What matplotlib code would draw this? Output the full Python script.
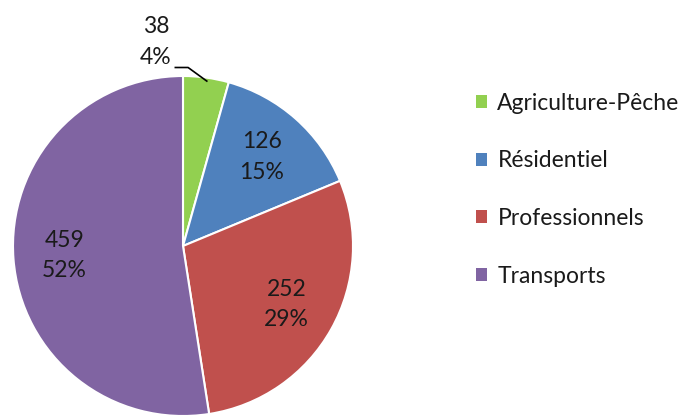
import matplotlib
matplotlib.use("Agg")
import matplotlib.pyplot as plt
import numpy as np
from matplotlib.patches import Patch

categories = ["Agriculture-Pêche", "Résidentiel", "Professionnels", "Transports"]
values = [38, 126, 252, 459]
percents = ["4%", "15%", "29%", "52%"]
colors = ["#92D050", "#4F81BD", "#C0504D", "#8064A2"]

plt.rcParams['font.family'] = ['Lato', 'DejaVu Sans']
FW = "normal"
FS = 16.5
TC = "#1a1a1a"

W, H = 692, 416
fig = plt.figure(figsize=(W / 100, H / 100), dpi=100)
cx, cy, r = 183, 246, 170
ax = fig.add_axes([(cx - r) / W, (H - cy - r) / H, 2 * r / W, 2 * r / H])

wedges, _ = ax.pie(values, colors=colors, startangle=90, counterclock=False,
                   radius=1, wedgeprops=dict(edgecolor="white", linewidth=1.5))
ax.set_xlim(-1, 1)
ax.set_ylim(-1, 1)
ax.set_aspect("equal")
ax.axis("off")

total = sum(values)
cum = 0
for i, (v, p) in enumerate(zip(values, percents)):
    mid = 90 - 360 * (cum + v / 2) / total
    cum += v
    if i == 0:
        ax.text(-0.16, 1.2, f"{v}\n{p}", ha="center", va="center", fontsize=FS,
                color=TC, linespacing=1.55, fontweight=FW)
        ax.plot([-0.045, 0.03, 0.14], [1.05, 1.05, 0.97], color="black", lw=1.2,
                clip_on=False)
    else:
        rr = 0.7
        x = rr * np.cos(np.radians(mid))
        y = rr * np.sin(np.radians(mid))
        ax.text(x, y, f"{v}\n{p}", ha="center", va="center", fontsize=FS,
                color=TC, linespacing=1.55, fontweight=FW)

handles = [Patch(facecolor=c, edgecolor="none") for c in colors]
leg = fig.legend(handles, categories, loc="upper left",
                 bbox_to_anchor=(455 / W, 1 - 72 / H), frameon=False,
                 handlelength=0.5, handleheight=0.5,
                 handletextpad=0.45, labelspacing=1.6, labelcolor=TC,
                 prop=dict(weight=FW, size=FS))

fig.savefig("out.png", dpi=100)
